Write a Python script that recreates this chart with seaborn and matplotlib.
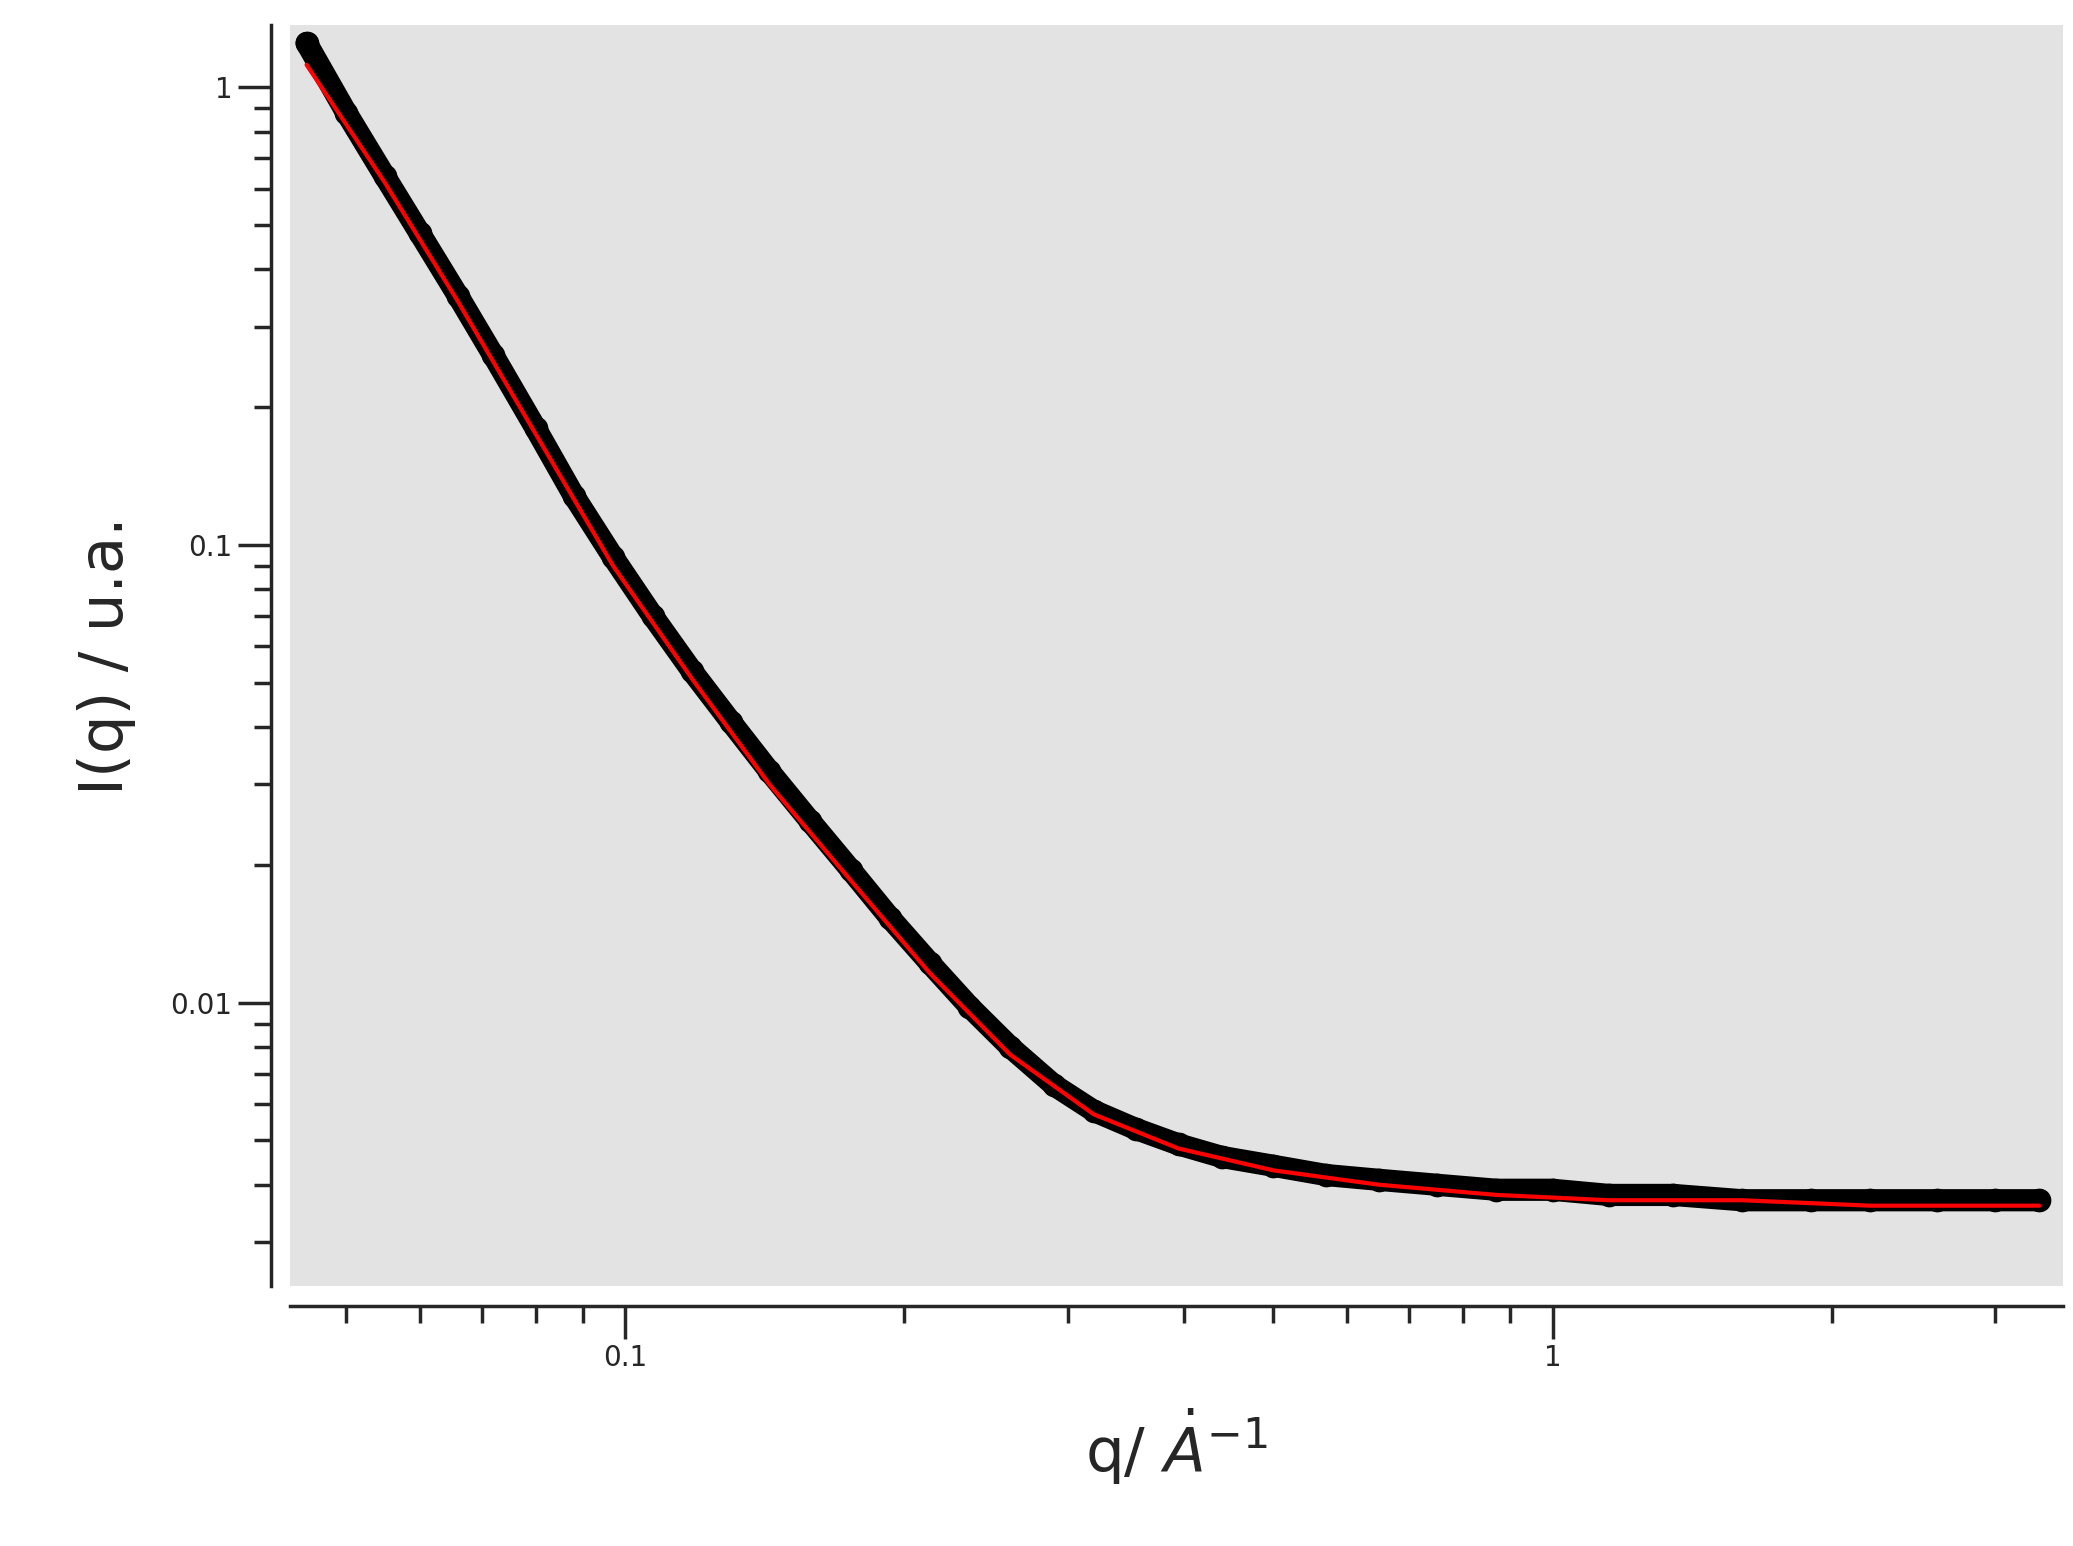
import matplotlib
matplotlib.use("Agg")
import matplotlib.pyplot as plt
import matplotlib.ticker as mticker
import numpy as np
import pandas as pd
import seaborn as sns

# values (q in 1/A, I in a.u.)
q_data = [0.0453, 0.050, 0.055, 0.060, 0.066, 0.072, 0.080, 0.088, 0.097, 0.107,
          0.118, 0.130, 0.143, 0.158, 0.175, 0.193, 0.213, 0.235, 0.260, 0.290,
          0.320, 0.355, 0.395, 0.440, 0.50, 0.57, 0.65, 0.75, 0.87, 1.0,
          1.15, 1.35, 1.6, 1.9, 2.2, 2.6, 3.0, 3.35]
i_data = [1.25, 0.88, 0.64, 0.48, 0.35, 0.26, 0.18, 0.128, 0.094, 0.070,
          0.053, 0.041, 0.032, 0.025, 0.0195, 0.0153, 0.0122, 0.0098, 0.0080, 0.0066,
          0.0058, 0.0053, 0.0049, 0.0046, 0.0044, 0.0042, 0.0041, 0.0040, 0.0039, 0.0039,
          0.0038, 0.0038, 0.0037, 0.0037, 0.0037, 0.0037, 0.0037, 0.0037]
q_fit = [0.0453, 0.055, 0.066, 0.080, 0.097, 0.118, 0.143, 0.175, 0.213, 0.260,
         0.320, 0.395, 0.50, 0.65, 0.87, 1.15, 1.6, 2.2, 3.0, 3.35]
i_fit = [1.12, 0.62, 0.34, 0.175, 0.090, 0.051, 0.030, 0.0185, 0.0116, 0.0077,
         0.0057, 0.0048, 0.0043, 0.0040, 0.0038, 0.0037, 0.0037, 0.0036, 0.0036, 0.0036]

data = pd.DataFrame({"q": q_data, "I": i_data})
fit = pd.DataFrame({"q": q_fit, "I": i_fit})

sns.set_style("ticks")
fig = plt.figure(figsize=(20.73, 15.46), dpi=100)
ax = fig.add_axes([0.14, 0.168, 0.855, 0.816])
ax.set_facecolor("#e3e3e3")

sns.lineplot(data=data, x="q", y="I", ax=ax, color="black", linewidth=16)
sns.scatterplot(data=data, x="q", y="I", ax=ax, color="black", s=250, edgecolor="black")
sns.lineplot(data=fit, x="q", y="I", ax=ax, color="red", linewidth=3)

ax.set_xscale("log")
ax.set_yscale("log")
ax.set_xlim(0.0435, 3.55)
ax.set_ylim(0.0024, 1.37)

for s in ["top", "right"]:
    ax.spines[s].set_visible(False)
ax.spines["left"].set_position(("outward", 14))
ax.spines["bottom"].set_position(("outward", 14))
ax.spines["left"].set_linewidth(2.5)
ax.spines["bottom"].set_linewidth(2.5)

fmt = mticker.FuncFormatter(lambda v, p: f"{v:g}")
ax.xaxis.set_major_formatter(fmt)
ax.yaxis.set_major_formatter(fmt)
ax.xaxis.set_minor_formatter(mticker.NullFormatter())
ax.yaxis.set_minor_formatter(mticker.NullFormatter())
ax.tick_params(which="major", length=24, width=2.5, labelsize=20, direction="out")
ax.tick_params(which="minor", length=12, width=2.5, direction="out")

ax.set_xlabel(r"q/ $\dot{A}^{-1}$", fontsize=44, labelpad=25)
ax.set_ylabel("I(q) / u.a.", fontsize=44, labelpad=25)

fig.savefig("out.png", dpi=100, facecolor="white")
